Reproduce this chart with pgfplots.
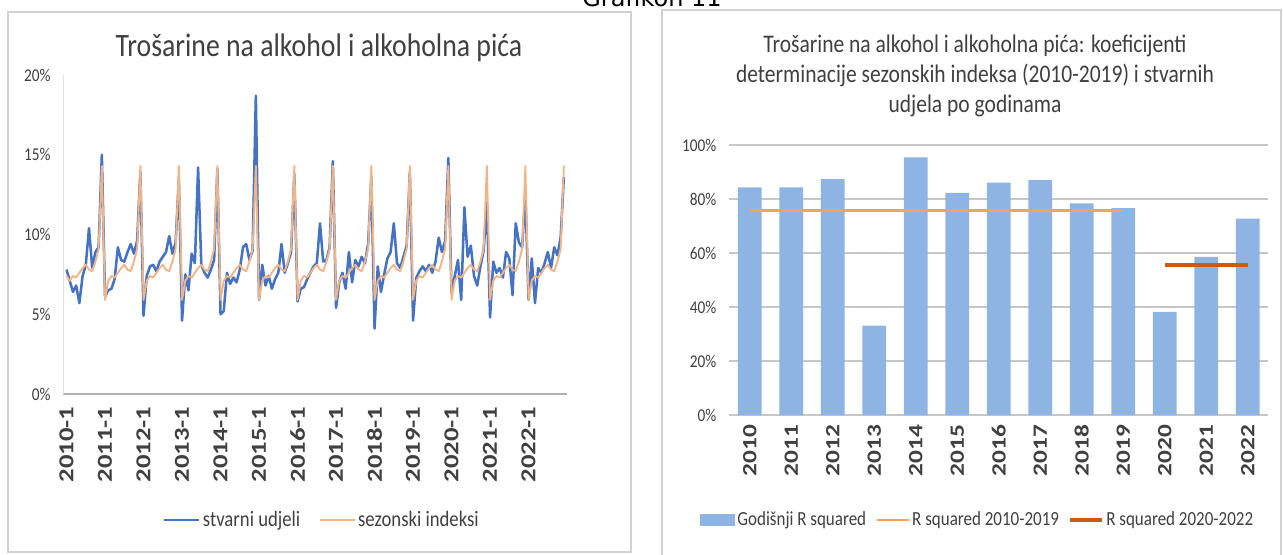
\documentclass[border=0pt]{standalone}
\usepackage{pgfplots}
\usepackage{pgfplotstable}
\usepackage{graphicx}
\pgfplotsset{compat=1.18}
\usepackage{fontspec}
\setmainfont{Carlito}[FakeStretch=0.85]
\newfontfamily\rotfont{Carlito}
\newfontfamily\verd{DejaVu Sans}
\definecolor{blueL}{RGB}{68,114,196}
\definecolor{orangeL}{RGB}{240,180,135}
\definecolor{barblue}{RGB}{142,180,227}
\definecolor{orangeR}{RGB}{247,160,90}
\definecolor{orangeD}{RGB}{205,90,20}
\definecolor{txt}{RGB}{64,64,64}
\newcommand{\rl}[1]{\scalebox{1}[0.8]{#1}}

\pgfplotstableread{
blue orange
7.8 7.4
7.1 7.1
6.4 7.4
6.8 7.3
5.7 7.6
7.4 7.9
8.1 8.1
10.4 7.8
7.9 7.7
8.9 8.3
9.2 9.1
15.0 14.3
6.1 5.9
6.5 7.1
6.6 7.4
7.2 7.3
9.2 7.6
8.4 7.9
8.3 8.1
8.9 7.8
9.4 7.7
8.8 8.3
9.6 9.1
13.9 14.3
4.9 5.9
7.4 7.1
8.0 7.4
8.1 7.3
7.7 7.6
8.3 7.9
8.6 8.1
8.9 7.8
9.9 7.7
8.8 8.3
9.5 9.1
13.5 14.3
4.6 5.9
7.5 7.1
6.5 7.4
8.8 7.3
8.2 7.6
14.2 7.9
8.1 8.1
7.6 7.8
7.3 7.7
7.8 8.3
8.4 9.1
14.1 14.3
5.0 5.9
5.2 7.1
7.6 7.4
6.9 7.3
7.3 7.6
7.0 7.9
7.8 8.1
9.2 7.8
9.4 7.7
8.4 8.3
9.0 9.1
18.7 14.3
5.9 5.9
8.1 7.1
6.8 7.4
7.4 7.3
6.6 7.6
7.2 7.9
7.6 8.1
9.4 7.8
7.6 7.7
8.2 8.3
8.9 9.1
13.8 14.3
5.8 5.9
6.6 7.1
6.7 7.4
7.2 7.3
7.6 7.6
8.0 7.9
8.2 8.1
10.7 7.8
8.3 7.7
8.4 8.3
9.2 9.1
14.6 14.3
5.4 5.9
7.0 7.1
7.6 7.4
6.6 7.3
8.9 7.6
7.0 7.9
8.4 8.1
8.0 7.8
8.6 7.7
8.2 8.3
9.4 9.1
13.6 14.3
4.1 5.9
8.0 7.1
6.4 7.4
7.5 7.3
8.5 7.6
8.9 7.9
10.7 8.1
8.2 7.8
7.9 7.7
8.6 8.3
9.3 9.1
13.9 14.3
4.6 5.9
7.3 7.1
7.7 7.4
8.0 7.3
7.7 7.6
8.1 7.9
7.6 8.1
8.3 7.8
9.8 7.7
8.9 8.3
9.6 9.1
14.8 14.3
6.3 5.9
7.4 7.1
8.4 7.4
5.9 7.3
11.7 7.6
8.6 7.9
9.3 8.1
7.4 7.8
6.8 7.7
8.0 8.3
9.0 9.1
12.0 14.3
4.8 5.9
8.3 7.1
7.6 7.4
7.9 7.3
7.3 7.6
8.9 7.9
8.5 8.1
6.2 7.8
10.7 7.7
9.5 8.3
9.2 9.1
12.5 14.3
5.9 5.9
8.5 7.1
5.7 7.4
7.9 7.3
7.6 7.6
8.2 7.9
8.9 8.1
7.9 7.8
9.2 7.7
8.7 8.3
9.8 9.1
13.6 14.3
}\monthly

\begin{document}
\begin{tikzpicture}
\path[use as bounding box] (0,0) rectangle (962.25pt,415.5pt);
\clip (0,0) rectangle (962.25pt,415.5pt);
\fill[white] (0,0) rectangle (962.25pt,415.5pt);
% frames
\draw[gray!35, line width=1.2pt] (6pt,1.5pt) rectangle (473.25pt,406.5pt);
\draw[gray!35, line width=1.2pt] (496.5pt,-4.5pt) rectangle (960.75pt,408pt);
\node[anchor=base, font=\verd\fontsize{18}{18}\selectfont, text=black] at (489pt,410.25pt) {Grafikon 11};
% titles
\node[font=\fontsize{24.5}{28}\selectfont, text=txt] at (239.25pt,379.5pt) {Trošarine na alkohol i alkoholna pića};
\node[align=center, font=\fontsize{19}{22.5}\selectfont, text=txt] at (731.25pt,358.5pt)
 {Trošarine na alkohol i alkoholna pića: koeficijenti\\determinacije sezonskih indeksa (2010-2019) i stvarnih\\udjela po godinama};

\begin{axis}[
  at={(47.5pt,120pt)}, anchor=south west, scale only axis,
  width=377.8pt, height=239.25pt,
  xmin=-1, xmax=156, ymin=0, ymax=20,
  axis x line=bottom, axis y line=left,
  x axis line style={-, draw=gray!60, line width=1pt},
  y axis line style={-, draw=gray!25, line width=1pt},
  major tick length=0pt,
  ytick={0,5,10,15,20},
  yticklabels={0\%,5\%,10\%,15\%,20\%},
  yticklabel style={font=\fontsize{13.5}{14}\selectfont, text=txt, xshift=-6pt},
  xtick={0,12,...,144},
  xticklabels={\rl{2010-1},\rl{2011-1},\rl{2012-1},\rl{2013-1},\rl{2014-1},\rl{2015-1},\rl{2016-1},\rl{2017-1},\rl{2018-1},\rl{2019-1},\rl{2020-1},\rl{2021-1},\rl{2022-1}},
  xticklabel style={rotate=90, anchor=east, font=\rotfont\bfseries\fontsize{20}{20}\selectfont, text=txt, xshift=-6pt},
  legend style={draw=none, fill=none, legend columns=-1, at={(0.514,-0.395)}, anchor=center,
    font=\fontsize{16.5}{18}\selectfont, text=txt,
    /tikz/every even column/.append style={column sep=12pt}},
  legend image code/.code={\draw[#1] (0pt,0pt) -- (26pt,0pt);},
]
\addplot[blueL, line width=1.9pt, line join=round] table[x expr=\coordindex, y=blue] {\monthly};
\addlegendentry{stvarni udjeli}
\addplot[orangeL, line width=1.4pt, line join=round] table[x expr=\coordindex, y=orange] {\monthly};
\addlegendentry{sezonski indeksi}
\end{axis}

\begin{axis}[
  at={(546.75pt,104.25pt)}, anchor=south west, scale only axis,
  width=404.6pt, height=202.5pt,
  xmin=-0.5, xmax=12.5, ymin=0, ymax=100,
  axis line style={draw=none},
  major tick length=0pt,
  ymajorgrids, grid style={gray!45, line width=1pt},
  ytick={0,20,...,100},
  yticklabels={0\%,20\%,40\%,60\%,80\%,100\%},
  yticklabel style={font=\fontsize{13.5}{14}\selectfont, text=txt, xshift=-6pt},
  xtick={0,...,12},
  xticklabels={\rl{2010},\rl{2011},\rl{2012},\rl{2013},\rl{2014},\rl{2015},\rl{2016},\rl{2017},\rl{2018},\rl{2019},\rl{2020},\rl{2021},\rl{2022}},
  xticklabel style={rotate=90, anchor=east, font=\rotfont\bfseries\fontsize{19}{19}\selectfont, text=txt, xshift=-4pt},
  legend style={draw=none, fill=none, legend columns=-1, at={(0.4615,-0.389)}, anchor=center,
    font=\fontsize{15}{16}\selectfont, text=txt,
    /tikz/every even column/.append style={column sep=5pt}},
]
\addplot[ybar, bar width=0.57, fill=barblue, draw=none,
  legend image code/.code={\fill[barblue] (0pt,-4.5pt) rectangle (26pt,4.5pt);}]
  coordinates {(0,84.3) (1,84.3) (2,87.4) (3,33.1) (4,95.4) (5,82.3) (6,86.1) (7,87.0) (8,78.4) (9,76.6) (10,38.2) (11,58.6) (12,72.7)};
\addlegendentry{Godišnji R squared}
\addplot[orangeR, line width=2.2pt, legend image code/.code={\draw[orangeR, line width=1.5pt] (0pt,0pt) -- (24pt,0pt);}]
  coordinates {(0,75.9) (9,75.9)};
\addlegendentry{R squared 2010-2019}
\addplot[orangeD, line width=3pt, legend image code/.code={\draw[orangeD, line width=2.5pt] (0pt,0pt) -- (24pt,0pt);}]
  coordinates {(10,55.6) (12,55.6)};
\addlegendentry{R squared 2020-2022}
\end{axis}
\end{tikzpicture}
\end{document}
